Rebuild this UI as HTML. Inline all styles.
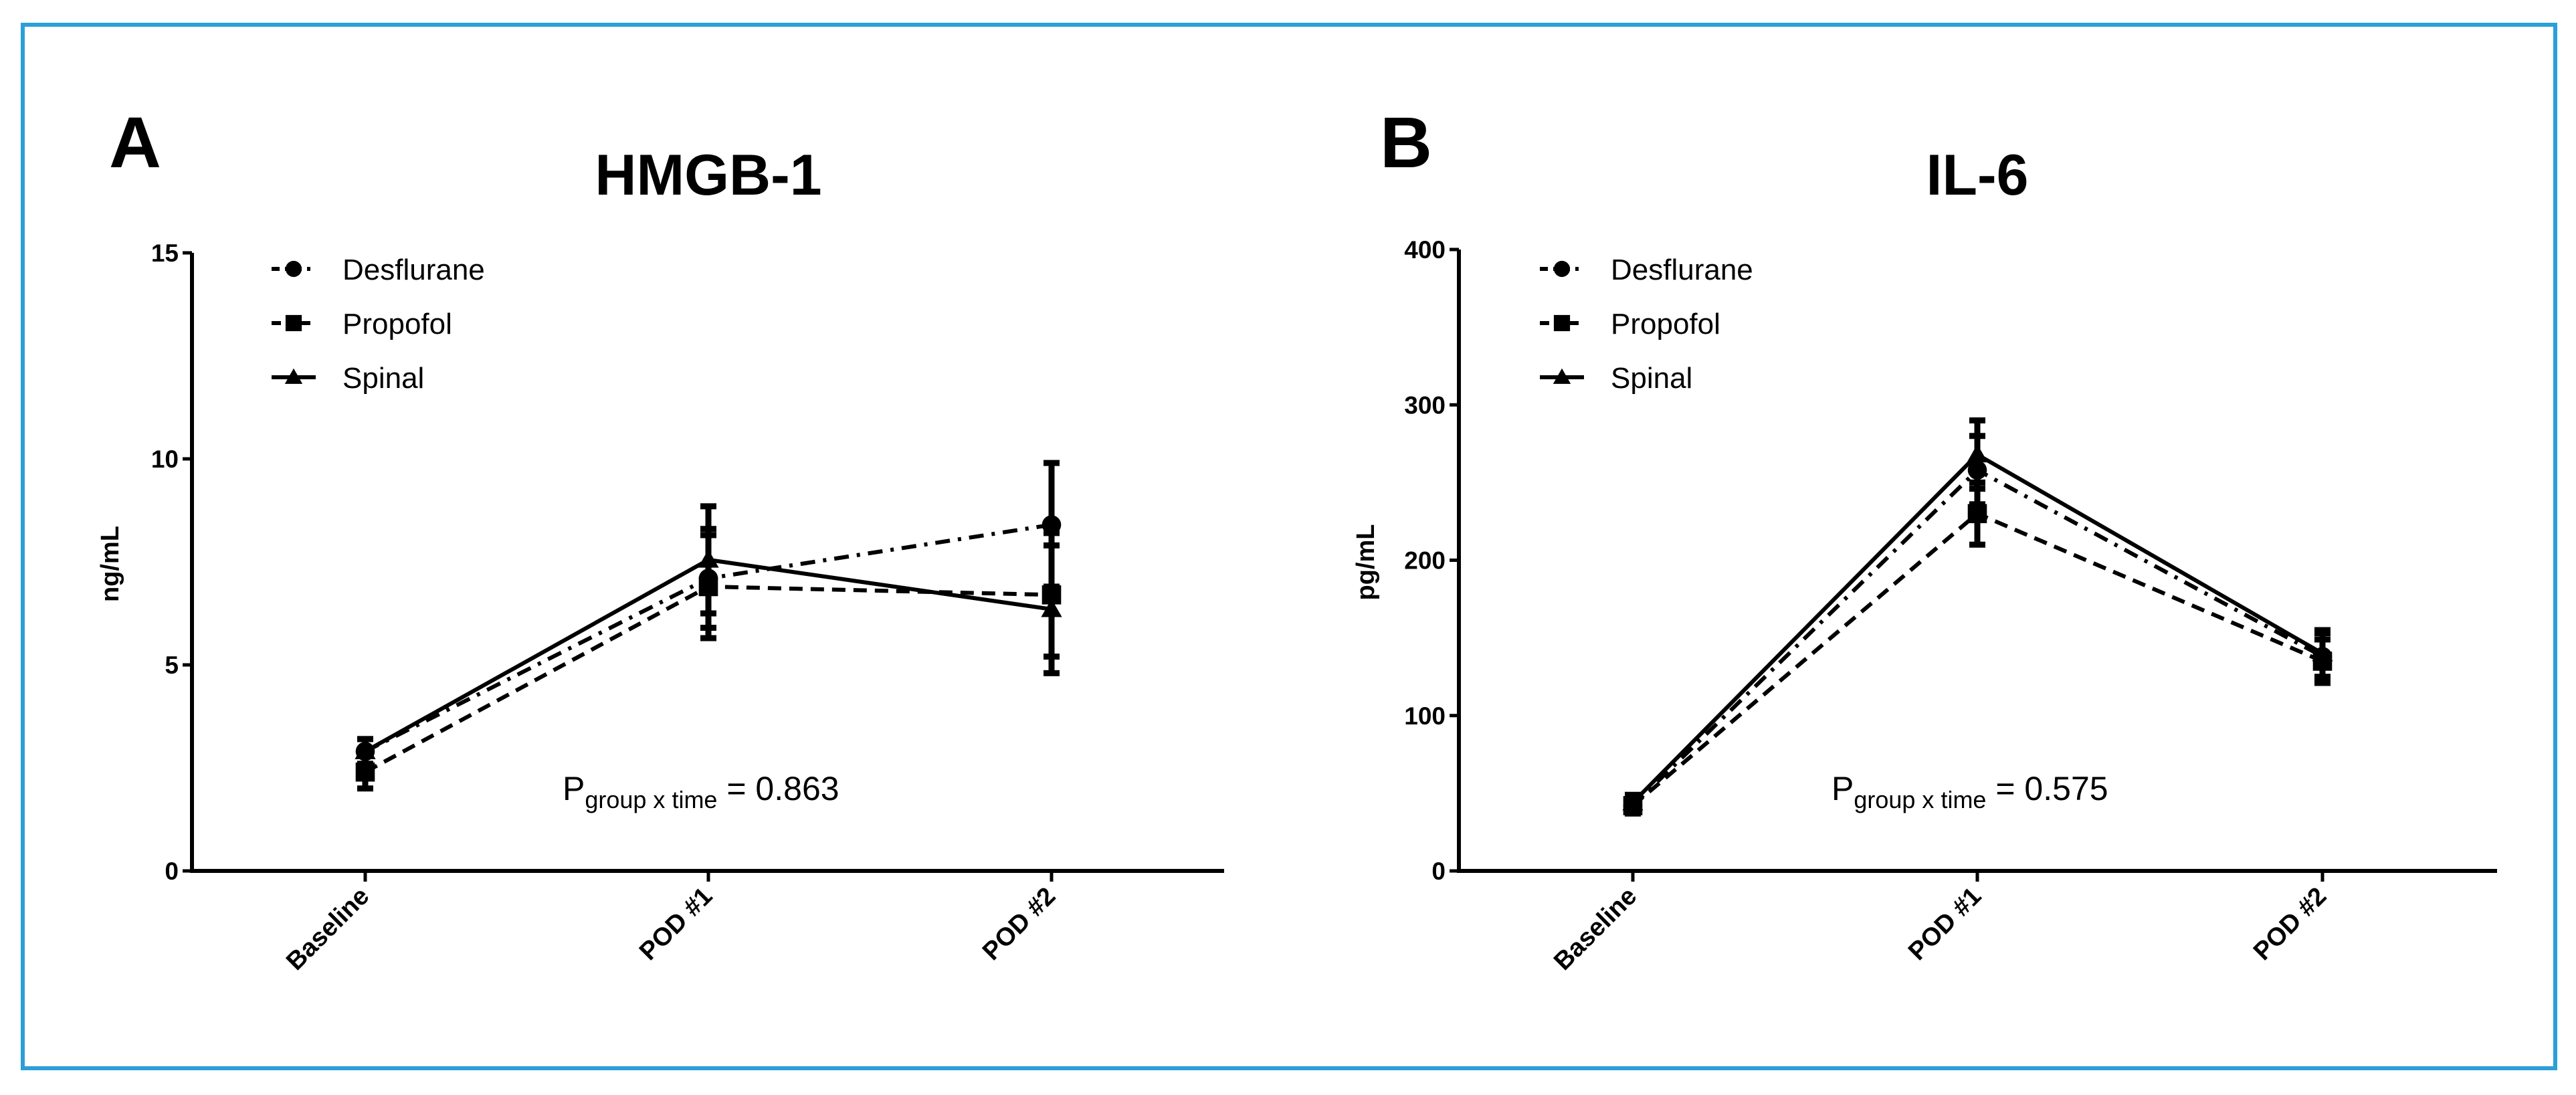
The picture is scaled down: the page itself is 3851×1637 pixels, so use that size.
<!DOCTYPE html>
<html><head><meta charset="utf-8"><style>
html,body{margin:0;padding:0;background:#fff;}
svg{display:block;font-family:"Liberation Sans",sans-serif;}
</style></head><body>
<svg id="root" width="3851" height="1637" viewBox="0 0 3851 1637">
<rect x="34" y="37" width="3786" height="1560" fill="none" stroke="#2a9fd8" stroke-width="6"/>
<g id="panelA"></g>
<g id="panelB"></g>
</svg>
<script>
const categories = ["Baseline", "POD #1", "POD #2"];
const seriesNames = ["Desflurane", "Propofol", "Spinal"];
// Panel A (HMGB-1, ng/mL)
const aTicks = [0, 5, 10, 15];
const aDesflurane = [2.9, 7.1, 8.4];
const aDesfluraneErr = [0.3, 1.2, 1.5];
const aPropofol = [2.4, 6.9, 6.7];
const aPropofolErr = [0.4, 1.25, 1.5];
const aSpinal = [2.9, 7.55, 6.35];
const aSpinalErr = [0.3, 1.3, 1.55];
// Panel B (IL-6, pg/mL)
const bTicks = [0, 100, 200, 300, 400];
const bDesflurane = [42, 258, 138];
const bDesfluraneErr = [5, 22, 15];
const bPropofol = [42, 230, 135];
const bPropofolErr = [5, 20, 14];
const bSpinal = [44, 268, 140];
const bSpinalErr = [5, 22, 15];

const NS = "http://www.w3.org/2000/svg";
function mk(parent, tag, attrs, text) {
  const e = document.createElementNS(NS, tag);
  for (const k in attrs) e.setAttribute(k, attrs[k]);
  if (text !== undefined) e.textContent = text;
  parent.appendChild(e);
  return e;
}
const dashes = ["22,12,5,12", "20,12", "none"];

function drawMarker(g, kind, x, y, s) {
  let m;
  if (kind === 0) m = mk(g, "circle", {cx: x, cy: y, r: s * 0.55, fill: "#000"});
  else if (kind === 1) m = mk(g, "rect", {x: x - s * 0.55, y: y - s * 0.55, width: s * 1.1, height: s * 1.1, fill: "#000"});
  else m = mk(g, "polygon", {points: `${x - s * 0.6},${y + s * 0.45} ${x + s * 0.6},${y + s * 0.45} ${x},${y - s * 0.6}`, fill: "#000"});
  return m;
}

function panel(g, cfg) {
  const {x0, x1, yTop, yBot, max, ticks, cats, data, errs, letter, letterX, title, ylab, ylabX, legX, pX, pVal} = cfg;
  const yS = v => yBot - (v / max) * (yBot - yTop);
  const xS = i => cats[i];
  let t;
  t = mk(g, "text", {x: letterX, y: 250, "font-size": 108, "font-weight": "bold"}, letter);
  
  
  t = mk(g, "text", {x: cats[1], y: 291, "font-size": 86, "font-weight": "bold", "text-anchor": "middle"}, title);
  
  
  t = mk(g, "text", {x: ylabX, y: (yTop + yBot) / 2 + 3, "font-size": 38, "font-weight": "bold", "text-anchor": "middle", transform: `rotate(-90 ${ylabX} ${(yTop + yBot) / 2 + 3})`}, ylab);
  
  
  // axes
  let a = mk(g, "path", {d: `M${x0},${yTop} V${yBot} H${x1}`, stroke: "#000", "stroke-width": 6, fill: "none"});
  
  
  ticks.forEach(v => {
    const y = yS(v);
    const l = mk(g, "line", {x1: x0 - 14, x2: x0, y1: y, y2: y, stroke: "#000", "stroke-width": 5});
    
    
    const tx = mk(g, "text", {x: x0 - 20, y: y + 13, "font-size": 37, "font-weight": "bold", "text-anchor": "end"}, String(v));
    
    
  });
  categories.forEach((c, i) => {
    const x = xS(i);
    const l = mk(g, "line", {x1: x, x2: x, y1: yBot, y2: yBot + 16, stroke: "#000", "stroke-width": 5});
    
    
    const tx = mk(g, "text", {x: x + 8, y: yBot + 40, "font-size": 38, "font-weight": "bold", "text-anchor": "end", transform: `rotate(-45 ${x + 8} ${yBot + 40})`}, c);
    
    
  });
  // series
  data.forEach((vals, s) => {
    const sg = mk(g, "g", {});
    
    
    const pts = vals.map((v, i) => `${xS(i)},${yS(v)}`).join(" ");
    const pl = mk(sg, "polyline", {points: pts, fill: "none", stroke: "#000", "stroke-width": 6, "stroke-dasharray": dashes[s]});
    
    
    vals.forEach((v, i) => {
      const x = xS(i), e = errs[s][i];
      const eb = mk(sg, "path", {d: `M${x},${yS(v - e)} V${yS(v + e)} M${x - 12},${yS(v + e)} H${x + 12} M${x - 12},${yS(v - e)} H${x + 12}`, stroke: "#000", "stroke-width": 9, fill: "none"});
      
      
      const m = drawMarker(sg, s, x, yS(v), 26);
      
      
    });
  });
  // legend
  const ly = [402, 483, 564];
  seriesNames.forEach((n, s) => {
    const lg = mk(g, "g", {});
    
    
    mk(lg, "line", {x1: legX, x2: legX + 66, y1: ly[s], y2: ly[s], stroke: "#000", "stroke-width": 6, "stroke-dasharray": s === 0 ? "12,8,5,8" : s === 1 ? "14,8" : "none"});
    drawMarker(lg, s, legX + 33, ly[s], 22);
    mk(lg, "text", {x: legX + 106, y: ly[s] + 16, "font-size": 44}, n);
  });
  // p-value
  t = mk(g, "text", {x: pX, y: 1196, "font-size": 50});
  
  
  mk(t, "tspan", {}, "P");
  mk(t, "tspan", {"font-size": 36, dy: 12}, "group x time");
  mk(t, "tspan", {dy: -12}, " = " + pVal);
}

panel(document.getElementById("panelA"), {
  x0: 287, x1: 1830, yTop: 378, yBot: 1302, max: 15, ticks: aTicks,
  cats: [546, 1059, 1572], data: [aDesflurane, aPropofol, aSpinal],
  errs: [aDesfluraneErr, aPropofolErr, aSpinalErr],
  letter: "A", letterX: 163, title: "HMGB-1", ylab: "ng/mL", ylabX: 177,
  legX: 406, pX: 841, pVal: "0.863"
});
panel(document.getElementById("panelB"), {
  x0: 2181, x1: 3733, yTop: 373, yBot: 1302, max: 400, ticks: bTicks,
  cats: [2441, 2956, 3472], data: [bDesflurane, bPropofol, bSpinal],
  errs: [bDesfluraneErr, bPropofolErr, bSpinalErr],
  letter: "B", letterX: 2063, title: "IL-6", ylab: "pg/mL", ylabX: 2054,
  legX: 2302, pX: 2738, pVal: "0.575"
});
</script>
</body></html>
